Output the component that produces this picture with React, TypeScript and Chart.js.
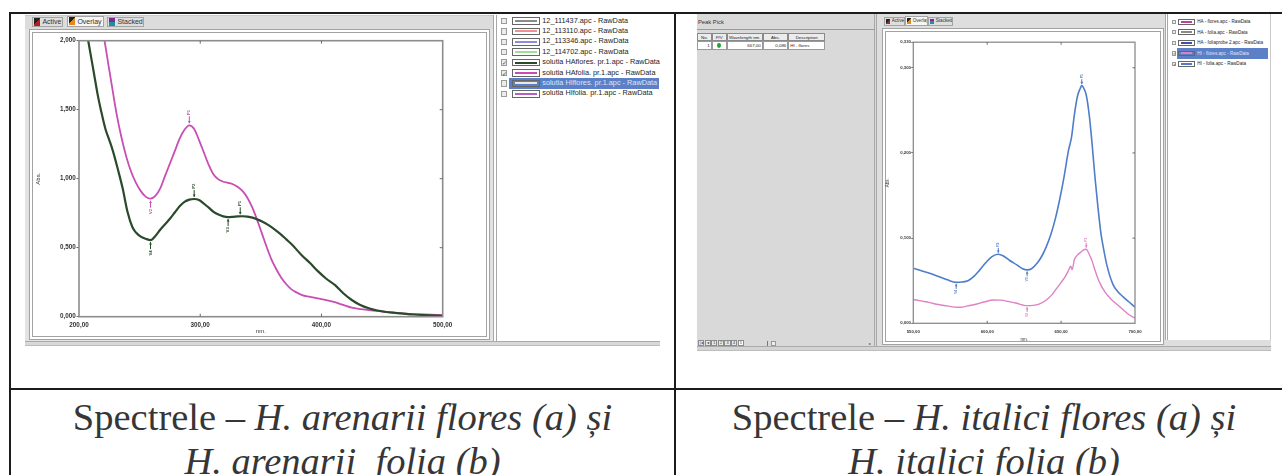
import React, { useEffect, useRef } from "react";
import { Chart, registerables } from "chart.js";

Chart.register(...registerables);

// ---------------- DATA: left chart (H. arenarii) ----------------
const arenariiFloresNm = [205, 207.6, 212, 215.6, 218, 221.8, 225, 228, 232, 236, 240, 244, 247, 251, 255, 259, 263, 267, 271, 275, 279, 283, 287, 291, 295, 299, 303, 307, 311, 315, 319, 323, 327, 331, 335, 339, 343, 347, 351, 356, 361, 366, 371, 376, 383.5, 391, 397, 404, 411, 418, 425, 432, 439, 446, 452, 459, 466, 475, 485, 500];
const arenariiFloresAbs = [2.12, 2.0, 1.78, 1.6, 1.5, 1.36, 1.28, 1.2, 1.07, 0.93, 0.76, 0.65, 0.61, 0.58, 0.565, 0.555, 0.585, 0.63, 0.67, 0.71, 0.755, 0.8, 0.832, 0.848, 0.853, 0.845, 0.82, 0.79, 0.76, 0.74, 0.727, 0.722, 0.724, 0.727, 0.728, 0.725, 0.718, 0.705, 0.69, 0.665, 0.635, 0.6, 0.56, 0.52, 0.447, 0.385, 0.33, 0.275, 0.23, 0.17, 0.121, 0.085, 0.061, 0.045, 0.036, 0.029, 0.024, 0.016, 0.011, 0.007];
const arenariiFloresPeakNm = [259, 295, 323, 333];
const arenariiFloresPeakKind = ["V", "P", "V", "P"];
const arenariiFloresPeakLabel = ["4", "2", "3", "1"];

const arenariiFoliaNm = [219, 221, 224, 227, 231, 235, 239, 243, 247, 251, 255, 259, 263, 267, 271, 275, 279, 283, 287, 291, 295, 299, 303, 307, 311, 315, 319, 323, 327, 331, 335, 339, 343, 347, 351, 355, 359, 363, 367, 371, 375, 379, 384, 390, 397, 404, 411, 418, 425, 432, 439, 446, 452, 459, 466, 475, 485, 500];
const arenariiFoliaAbs = [2.08, 2.0, 1.84, 1.68, 1.47, 1.3, 1.16, 1.05, 0.97, 0.91, 0.87, 0.855, 0.875, 0.93, 1.02, 1.11, 1.2, 1.29, 1.355, 1.387, 1.36, 1.28, 1.19, 1.1, 1.03, 0.995, 0.978, 0.97, 0.96, 0.94, 0.91, 0.86, 0.79, 0.7, 0.6, 0.5, 0.41, 0.34, 0.28, 0.235, 0.2, 0.178, 0.157, 0.145, 0.133, 0.12, 0.105, 0.085, 0.065, 0.055, 0.048, 0.042, 0.036, 0.03, 0.024, 0.02, 0.016, 0.012];
const arenariiFoliaPeakNm = [259, 291];
const arenariiFoliaPeakKind = ["V", "P"];
const arenariiFoliaPeakLabel = ["2", "1"];

const leftXTicks = [200, 300, 400, 500];
const leftYTicks = [0, 0.5, 1.0, 1.5, 2.0];

// ---------------- DATA: right chart (H. italici) ----------------
const italiciFoliaNm = [550, 555, 561, 567, 573, 579, 583, 587, 591, 595, 599, 603, 607.5, 611, 615, 620, 624, 627, 630, 634, 637, 640, 643, 646, 649, 652, 655, 657, 659, 661, 663, 664, 665, 667, 669, 671, 673, 675, 677, 679, 681, 685, 688, 692, 696, 700];
const italiciFoliaAbs = [0.0647, 0.062, 0.0588, 0.055, 0.051, 0.048, 0.0485, 0.05, 0.055, 0.0627, 0.071, 0.078, 0.081, 0.079, 0.074, 0.0686, 0.064, 0.0627, 0.064, 0.071, 0.079, 0.09, 0.104, 0.122, 0.145, 0.172, 0.203, 0.218, 0.245, 0.266, 0.276, 0.279, 0.277, 0.268, 0.245, 0.21, 0.17, 0.135, 0.105, 0.085, 0.068, 0.046, 0.038, 0.031, 0.025, 0.019];
const italiciFoliaPeakNm = [579, 607.5, 627, 664];
const italiciFoliaPeakKind = ["V", "P", "V", "P"];
const italiciFoliaPeakLabel = ["4", "2", "3", "1"];

const italiciFloresNm = [550, 556, 561, 567, 573, 578, 582, 587, 593, 598, 604, 609, 614, 620, 624, 627, 631, 635, 640, 644, 647, 650, 653, 655, 656.5, 657.5, 659, 661, 663, 665, 667, 669, 671, 673, 676, 680, 684, 688, 692, 696, 700];
const italiciFloresAbs = [0.028, 0.026, 0.0243, 0.022, 0.0204, 0.019, 0.0188, 0.0205, 0.0227, 0.025, 0.0274, 0.0272, 0.0258, 0.0235, 0.0215, 0.0207, 0.021, 0.0225, 0.0274, 0.034, 0.041, 0.048, 0.0555, 0.062, 0.067, 0.063, 0.075, 0.08, 0.083, 0.086, 0.087, 0.081, 0.073, 0.062, 0.048, 0.036, 0.028, 0.022, 0.016, 0.01, 0.006];
const italiciFloresPeakNm = [627, 667];
const italiciFloresPeakKind = ["V", "P"];
const italiciFloresPeakLabel = ["2", "1"];

const rightXTicks = [550, 600, 650, 700];
const rightYTicks = [0, 0.1, 0.2, 0.3, 0.33];

// ---------------- legend / table texts ----------------
const leftLegendNames = [
  "12_111437.apc - RawData",
  "12_113110.apc - RawData",
  "12_113346.apc - RawData",
  "12_114702.apc - RawData",
  "solutia HAflores. pr.1.apc - RawData",
  "solutia HAfolia. pr.1.apc - RawData",
  "solutia HIflores. pr.1.apc - RawData",
  "solutia HIfolia. pr.1.apc - RawData",
];
const leftLegendColors = ["#8a8a8a", "#f09090", "#8c8ce0", "#9ee09a", "#2b4a2b", "#c84db4", "#e8e8e8", "#b060c0"];
const leftLegendChecked = [false, false, false, false, true, true, false, false];
const leftLegendHighlight = 6;

const rightLegendNames = [
  "HA - flores.apc - RawData",
  "HA - folia.apc - RawData",
  "HA - foliaprobe 2.apc - RawData",
  "HI - flores.apc - RawData",
  "HI - folia.apc - RawData",
];
const rightLegendColors = ["#c040a0", "#8a8a8a", "#4050a8", "#e07fc4", "#4f7dca"];
const rightLegendChecked = [false, false, false, true, true];
const rightLegendHighlight = 3;

const peakTableHeaders = ["No.", "P/V", "Wavelength nm.", "Abs.", "Description"];
const peakTableRow = ["1", "", "667,00", "0,086", "HI - flores"];

// ---------------- helpers ----------------
const GREEN = "#2b4a2b";
const MAGENTA = "#c84db4";
const BLUE = "#4f7dca";
const PINK = "#de82c4";

function valueAt(xs: number[], ys: number[], x: number) {
  if (x <= xs[0]) return ys[0];
  for (let i = 1; i < xs.length; i++) {
    if (x <= xs[i]) {
      const t = (x - xs[i - 1]) / (xs[i] - xs[i - 1]);
      return ys[i - 1] + t * (ys[i] - ys[i - 1]);
    }
  }
  return ys[ys.length - 1];
}

type SeriesDef = {
  label: string;
  nm: number[];
  abs: number[];
  color: string;
  width: number;
  peakNm: number[];
  peakKind: string[];
  peakLabel: string[];
};

type ChartDef = {
  left: number;
  top: number;
  width: number;
  height: number;
  area: { left: number; top: number; right: number; bottom: number };
  xMin: number;
  xMax: number;
  xTicks: number[];
  xDec: number;
  yMin: number;
  yMax: number;
  yTicks: number[];
  yDec: number;
  tickFont: number;
  titleFont: number;
  xLabelPad: number;
  yLabelPad: number;
  yTickLen: number;
  xTitlePad: number;
  yTitlePad: number;
  innerTick: number;
  axisWidth: number;
  markLen: number;
  markGap: number;
  markFont: number;
  series: SeriesDef[];
};

const fmt = (v: number, d: number) => Number(v).toFixed(d).replace(".", ",");

function SpectrumChart({ def }: { def: ChartDef }) {
  const ref = useRef<HTMLCanvasElement | null>(null);
  useEffect(() => {
    const canvas = ref.current;
    if (!canvas) return;
    const a = def.area;
    const yW = a.left - def.left;
    const padTop = a.top - def.top;
    const padRight = def.left + def.width - a.right;
    const xH = def.top + def.height - a.bottom;
    const axisColor = "#8c8c8c";
    const labelColor = "#333";

    const framePlugin = {
      id: "frameAndMarks",
      afterDatasetsDraw(chart: any) {
        const { ctx, chartArea: ca, scales } = chart;
        ctx.save();
        ctx.strokeStyle = axisColor;
        ctx.lineWidth = def.axisWidth;
        ctx.strokeRect(ca.left, ca.top, ca.right - ca.left, ca.bottom - ca.top);
        ctx.lineWidth = 1;
        ctx.strokeStyle = "#6a6a6a";
        scales.x.ticks.forEach((t: any) => {
          const p = scales.x.getPixelForValue(t.value);
          if (p <= ca.left + 1 || p >= ca.right - 1) return;
          ctx.beginPath();
          ctx.moveTo(p, ca.top);
          ctx.lineTo(p, ca.top + def.innerTick);
          ctx.moveTo(p, ca.bottom);
          ctx.lineTo(p, ca.bottom - def.innerTick);
          ctx.stroke();
        });
        scales.y.ticks.forEach((t: any) => {
          const p = scales.y.getPixelForValue(t.value);
          if (p <= ca.top + 1 || p >= ca.bottom - 1) return;
          ctx.beginPath();
          ctx.moveTo(ca.right, p);
          ctx.lineTo(ca.right - def.innerTick, p);
          ctx.stroke();
        });
        // peak / valley markers
        def.series.forEach((s) => {
          s.peakNm.forEach((nm, i) => {
            const dir = s.peakKind[i] === "P" ? -1 : 1;
            const px = scales.x.getPixelForValue(nm);
            const py = scales.y.getPixelForValue(valueAt(s.nm, s.abs, nm));
            const y0 = py + dir * def.markGap;
            const y1 = py + dir * (def.markGap + def.markLen);
            ctx.strokeStyle = s.color;
            ctx.fillStyle = s.color;
            ctx.lineWidth = 1;
            ctx.beginPath();
            ctx.moveTo(px, y0);
            ctx.lineTo(px, y1);
            ctx.stroke();
            ctx.beginPath();
            ctx.moveTo(px, y0);
            ctx.lineTo(px - 1.4, y0 + dir * 2.4);
            ctx.lineTo(px + 1.4, y0 + dir * 2.4);
            ctx.closePath();
            ctx.fill();
            ctx.save();
            ctx.translate(px, y1 + dir * def.markFont * 0.9);
            ctx.rotate(-Math.PI / 2);
            ctx.font = `bold ${def.markFont}px "Liberation Sans", Arial, sans-serif`;
            ctx.textAlign = "center";
            ctx.textBaseline = "middle";
            ctx.fillText((s.peakKind[i] === "P" ? "P" : "V") + s.peakLabel[i], 0, 0);
            ctx.restore();
          });
        });
        ctx.restore();
      },
    };

    const chart = new Chart(canvas, {
      type: "line",
      data: {
        datasets: def.series.map((s) => ({
          label: s.label,
          data: s.nm.map((x, i) => ({ x, y: s.abs[i] })),
          borderColor: s.color,
          backgroundColor: s.color,
          borderWidth: s.width,
          pointRadius: 0,
          cubicInterpolationMode: "monotone" as const,
          fill: false,
        })),
      },
      options: {
        animation: false,
        responsive: false,
        maintainAspectRatio: false,
        events: [],
        layout: { padding: { left: 0, top: padTop, right: padRight, bottom: 0 } },
        plugins: { legend: { display: false }, tooltip: { enabled: false }, title: { display: false } },
        scales: {
          x: {
            type: "linear",
            min: def.xMin,
            max: def.xMax,
            afterBuildTicks: (sc: any) => {
              sc.ticks = def.xTicks.map((v) => ({ value: v }));
            },
            afterFit: (sc: any) => {
              sc.height = xH;
            },
            grid: { display: false, drawTicks: false, tickLength: 0 },
            border: { display: false },
            ticks: {
              autoSkip: false,
              maxRotation: 0,
              padding: def.xLabelPad,
              color: labelColor,
              font: { size: def.tickFont, family: '"Liberation Sans", Arial, sans-serif', weight: "bold" },
              callback: (v: any) => fmt(v, def.xDec),
            },
            title: {
              display: true,
              text: "nm.",
              color: labelColor,
              font: { size: def.titleFont, family: '"Liberation Sans", Arial, sans-serif' },
              padding: { top: 0, bottom: def.xTitlePad },
            },
          },
          y: {
            type: "linear",
            min: def.yMin,
            max: def.yMax,
            afterBuildTicks: (sc: any) => {
              sc.ticks = def.yTicks.map((v) => ({ value: v }));
            },
            afterFit: (sc: any) => {
              sc.width = yW;
            },
            grid: { display: true, drawOnChartArea: false, drawTicks: true, tickLength: def.yTickLen, color: "#6a6a6a", lineWidth: 1 },
            border: { display: false },
            ticks: {
              autoSkip: false,
              padding: def.yLabelPad,
              color: labelColor,
              font: { size: def.tickFont, family: '"Liberation Sans", Arial, sans-serif', weight: "bold" },
              callback: (v: any) => fmt(v, def.yDec),
            },
            title: {
              display: true,
              text: "Abs.",
              color: labelColor,
              font: { size: def.titleFont, family: '"Liberation Sans", Arial, sans-serif' },
              padding: { top: def.yTitlePad, bottom: 0 },
            },
          },
        },
      } as any,
      plugins: [framePlugin],
    });
    return () => chart.destroy();
  }, []);
  return (
    <canvas
      ref={ref}
      width={def.width}
      height={def.height}
      style={{ position: "absolute", left: def.left, top: def.top, width: def.width, height: def.height }}
    />
  );
}

const leftDef: ChartDef = {
  left: 32,
  top: 31,
  width: 455,
  height: 305,
  area: { left: 79, top: 40.7, right: 442.7, bottom: 316.7 },
  xMin: 200,
  xMax: 500,
  xTicks: leftXTicks,
  xDec: 2,
  yMin: 0,
  yMax: 2,
  yTicks: leftYTicks,
  yDec: 3,
  tickFont: 6.3,
  titleFont: 6,
  xLabelPad: 4.6,
  yLabelPad: 0.8,
  yTickLen: 2.5,
  xTitlePad: 0.7,
  yTitlePad: 3.1,
  innerTick: 3,
  axisWidth: 1.6,
  markLen: 7,
  markGap: 2,
  markFont: 4.2,
  series: [
    { label: "solutia HAflores. pr.1.apc - RawData", nm: arenariiFloresNm, abs: arenariiFloresAbs, color: GREEN, width: 2.2, peakNm: arenariiFloresPeakNm, peakKind: arenariiFloresPeakKind, peakLabel: arenariiFloresPeakLabel },
    { label: "solutia HAfolia. pr.1.apc - RawData", nm: arenariiFoliaNm, abs: arenariiFoliaAbs, color: MAGENTA, width: 1.8, peakNm: arenariiFoliaPeakNm, peakKind: arenariiFoliaPeakKind, peakLabel: arenariiFoliaPeakLabel },
  ],
};

const rightDef: ChartDef = {
  left: 884,
  top: 30.5,
  width: 277,
  height: 311.5,
  area: { left: 913.3, top: 41.7, right: 1135, bottom: 323.3 },
  xMin: 550,
  xMax: 700,
  xTicks: rightXTicks,
  xDec: 2,
  yMin: 0,
  yMax: 0.33,
  yTicks: rightYTicks,
  yDec: 3,
  tickFont: 4.3,
  titleFont: 4.5,
  xLabelPad: 5.8,
  yLabelPad: 0.3,
  yTickLen: 2,
  xTitlePad: 0,
  yTitlePad: 1.1,
  innerTick: 2.5,
  axisWidth: 1.3,
  markLen: 5,
  markGap: 1.5,
  markFont: 3.4,
  series: [
    { label: "HI - flores.apc - RawData", nm: italiciFloresNm, abs: italiciFloresAbs, color: PINK, width: 1.4, peakNm: italiciFloresPeakNm, peakKind: italiciFloresPeakKind, peakLabel: italiciFloresPeakLabel },
    { label: "HI - folia.apc - RawData", nm: italiciFoliaNm, abs: italiciFoliaAbs, color: BLUE, width: 1.6, peakNm: italiciFoliaPeakNm, peakKind: italiciFoliaPeakKind, peakLabel: italiciFoliaPeakLabel },
  ],
};

// ---------------- UI pieces ----------------
function Box({ x, y, w, h, style, children }: any) {
  return (
    <div style={{ position: "absolute", left: x, top: y, width: w, height: h, boxSizing: "border-box", ...style }}>
      {children}
    </div>
  );
}

function Tab({ x, y, w, h, label, selected, icon, fs }: any) {
  return (
    <Box
      x={x}
      y={y}
      w={w}
      h={h}
      style={{
        background: selected ? "#f6f6f6" : "#dedede",
        border: "1px solid #a4a4a4",
        display: "flex",
        alignItems: "center",
        paddingLeft: 1,
        gap: fs * 0.35,
        fontSize: fs,
        color: "#333",
        whiteSpace: "nowrap",
        overflow: "hidden",
        lineHeight: 1,
      }}
    >
      <span style={{ display: "inline-block", width: fs * 0.9, height: fs * 1.2, background: icon, flex: "none" }} />
      <span>{label}</span>
    </Box>
  );
}

function Legend({ names, colors, checked, highlight, x0, y0, step, cb, boxX, boxW, boxH, textX, fs, hlX, hlW, hlH }: any) {
  return (
    <>
      {names.map((n: string, i: number) => {
        const cy = y0 + i * step;
        const hl = i === highlight;
        return (
          <React.Fragment key={i}>
            {hl && <Box x={hlX} y={cy - hlH / 2} w={hlW} h={hlH} style={{ background: "#5b80c8" }} />}
            <Box
              x={x0}
              y={cy - cb / 2}
              w={cb}
              h={cb}
              style={{ border: "1px solid #9a9a9a", background: "#ececec", fontSize: cb, lineHeight: 1, color: "#345", textAlign: "center" }}
            >
              {checked[i] ? "✓" : ""}
            </Box>
            <Box x={boxX} y={cy - boxH / 2} w={boxW} h={boxH} style={{ border: "1px solid #666", background: hl ? "#5b80c8" : "#fff" }}>
              <div style={{ position: "absolute", left: 2, right: 2, top: "50%", height: 2, marginTop: -1, background: colors[i] }} />
            </Box>
            <Box
              x={textX}
              y={cy - fs * 0.6}
              w={180}
              h={fs * 1.2}
              style={{ fontSize: fs, lineHeight: 1.2, color: hl ? "#dce6f8" : "#1e1e1e", whiteSpace: "nowrap" }}
            >
              {n}
            </Box>
          </React.Fragment>
        );
      })}
    </>
  );
}

const captionStyle: any = {
  position: "absolute",
  fontFamily: '"Liberation Serif", "Times New Roman", serif',
  fontSize: 38.5,
  lineHeight: "44px",
  color: "#363636",
  whiteSpace: "pre",
  textAlign: "center",
  width: 800,
};

export default function App() {
  const colEdges = [697.3, 711.7, 726.7, 762.7, 788.3, 825];
  return (
    <div
      style={{
        position: "absolute",
        left: 0,
        top: 0,
        width: 1282,
        height: 475,
        overflow: "hidden",
        background: "#fff",
        fontFamily: '"Liberation Sans", Arial, sans-serif',
      }}
    >
      {/* ---------- left screenshot ---------- */}
      <Box x={25} y={14.5} w={635} h={331} style={{ background: "#e3e3e3" }} />
      <Box x={25} y={14.5} w={468} h={14} style={{ background: "#dcdcdc", borderTop: "1px solid #c8c8c8" }} />
      <Tab x={31.7} y={16.7} w={31.3} h={10} label="Active" icon="linear-gradient(135deg,#222 50%,#b02020 50%)" fs={7} />
      <Tab x={66.7} y={15.7} w={37.3} h={11} label="Overlay" selected icon="linear-gradient(135deg,#222 45%,#e08a20 45%)" fs={7} />
      <Tab x={106.7} y={16.7} w={37.3} h={10} label="Stacked" icon="linear-gradient(180deg,#7a2a9a 50%,#20909a 50%)" fs={7} />
      <Box x={29} y={28.5} w={461} h={311} style={{ border: "4px double #a2a2a2", background: "#fff" }} />
      <Box x={493} y={14.5} w={167} h={326} style={{ borderLeft: "4px double #a8a8a8", background: "#fff" }} />
      <Box x={25} y={340.5} w={635} h={5.5} style={{ background: "#d8d8d8", borderTop: "1px solid #aaa", borderBottom: "1px solid #bdbdbd" }} />
      <Legend
        names={leftLegendNames}
        colors={leftLegendColors}
        checked={leftLegendChecked}
        highlight={leftLegendHighlight}
        x0={500.7}
        y0={21}
        step={10.4}
        cb={6.3}
        boxX={511.7}
        boxW={28.3}
        boxH={7.7}
        textX={542.3}
        fs={7.3}
        hlX={509}
        hlW={150}
        hlH={10.7}
      />
      <SpectrumChart def={leftDef} />

      {/* ---------- right screenshot ---------- */}
      <Box x={697} y={14} w={574} h={332} style={{ background: "#dedede" }} />
      {/* peak pick panel */}
      <Box x={697} y={14} w={180} h={332} style={{ background: "#d9d9d9", borderRight: "3px double #a8a8a8" }} />
      <Box x={698} y={18} w={60} h={8} style={{ fontSize: 5.8, lineHeight: "8px", color: "#333" }}>
        Peak Pick
      </Box>
      <Box x={697} y={29} w={178} h={1.2} style={{ background: "#9a9a9a" }} />
      {peakTableHeaders.map((h, i) => (
        <Box
          key={"h" + i}
          x={colEdges[i]}
          y={32.7}
          w={colEdges[i + 1] - colEdges[i]}
          h={8}
          style={{ border: "0.8px solid #8a8a8a", background: "#ececec", fontSize: 4.4, lineHeight: "7px", textAlign: "center", color: "#222", whiteSpace: "nowrap", overflow: "hidden" }}
        >
          {h}
        </Box>
      ))}
      {peakTableRow.map((c, i) => (
        <Box
          key={"r" + i}
          x={colEdges[i]}
          y={40.7}
          w={colEdges[i + 1] - colEdges[i]}
          h={9.5}
          style={{
            border: "0.8px solid #9a9a9a",
            background: "#fff",
            fontSize: 4.4,
            lineHeight: "8px",
            textAlign: i === 4 ? "left" : i === 1 ? "center" : "right",
            paddingRight: 1,
            paddingLeft: 1,
            color: "#222",
            whiteSpace: "nowrap",
            overflow: "hidden",
          }}
        >
          {i === 1 ? <span style={{ display: "inline-block", width: 4.5, height: 5.5, marginTop: 1.3, borderRadius: "50%", background: "#22a030" }} /> : c}
        </Box>
      ))}
      {/* bottom navigation of peak pick */}
      {["|◂", "◂", "1", "2", "3", "4", "5"].map((t, i) => (
        <Box
          key={"n" + i}
          x={698 + i * 6.6}
          y={340.3}
          w={6.3}
          h={6}
          style={{ border: "0.8px solid #8c8c8c", background: i === 6 ? "#fff" : "#e8e8e8", fontSize: 3.8, lineHeight: "5px", textAlign: "center", color: "#333" }}
        >
          {t}
        </Box>
      ))}
      <Box x={745} y={345.5} w={20} h={0.8} style={{ background: "#777" }} />
      <Box x={767} y={340.5} w={1} h={6} style={{ background: "#777" }} />
      <Box x={771} y={340.7} w={5} h={5.5} style={{ border: "0.8px solid #999", background: "#eee" }} />
      <Box x={869} y={341} w={4} h={5} style={{ fontSize: 4, lineHeight: "5px", color: "#555" }}>
        ▸
      </Box>
      {/* chart panel */}
      <Tab x={884} y={16.7} w={21} h={9.3} label="Active" icon="linear-gradient(135deg,#222 50%,#b02020 50%)" fs={4.6} />
      <Tab x={905} y={16.2} w={23} h={9.8} label="Overlay" selected icon="linear-gradient(135deg,#222 45%,#e08a20 45%)" fs={4.6} />
      <Tab x={928} y={16.7} w={24.7} h={9.3} label="Stacked" icon="linear-gradient(180deg,#7a2a9a 50%,#20909a 50%)" fs={4.6} />
      <Box x={881.5} y={28.3} w={282} h={317} style={{ border: "4px double #a2a2a2", background: "#fff" }} />
      <Box x={1165} y={14} w={106} h={326} style={{ borderLeft: "3px double #a8a8a8", background: "#fff", borderRight: "1px solid #c8c8c8" }} />
      <Box x={697} y={346} w={574} h={4.5} style={{ background: "#d4d4d4", borderTop: "1px solid #aaa", borderBottom: "1px solid #bdbdbd" }} />
      <Legend
        names={rightLegendNames}
        colors={rightLegendColors}
        checked={rightLegendChecked}
        highlight={rightLegendHighlight}
        x0={1171.5}
        y0={21.7}
        step={10.6}
        cb={4.4}
        boxX={1178}
        boxW={17}
        boxH={5.8}
        textX={1197.3}
        fs={4.6}
        hlX={1176.7}
        hlW={91.3}
        hlH={10.7}
      />
      <SpectrumChart def={rightDef} />

      {/* ---------- table lines ---------- */}
      <Box x={9} y={12} w={1273} h={2.2} style={{ background: "#1c1c1c" }} />
      <Box x={9} y={12} w={2.2} h={463} style={{ background: "#1c1c1c" }} />
      <Box x={673.8} y={12} w={2.2} h={463} style={{ background: "#1c1c1c" }} />
      <Box x={9} y={388.3} w={1273} h={2.2} style={{ background: "#1c1c1c" }} />

      {/* ---------- captions ---------- */}
      <div style={{ ...captionStyle, left: 342.5 - 400, top: 395 }}>
        Spectrele – <i>H. arenarii flores (a) și</i>
      </div>
      <div style={{ ...captionStyle, left: 342.5 - 400, top: 439 }}>
        <i>H. arenarii  folia (b)</i>
      </div>
      <div style={{ ...captionStyle, left: 984 - 400, top: 395 }}>
        Spectrele – <i>H. italici flores (a) și</i>
      </div>
      <div style={{ ...captionStyle, left: 984 - 400, top: 439 }}>
        <i>H. italici folia (b)</i>
      </div>
    </div>
  );
}
